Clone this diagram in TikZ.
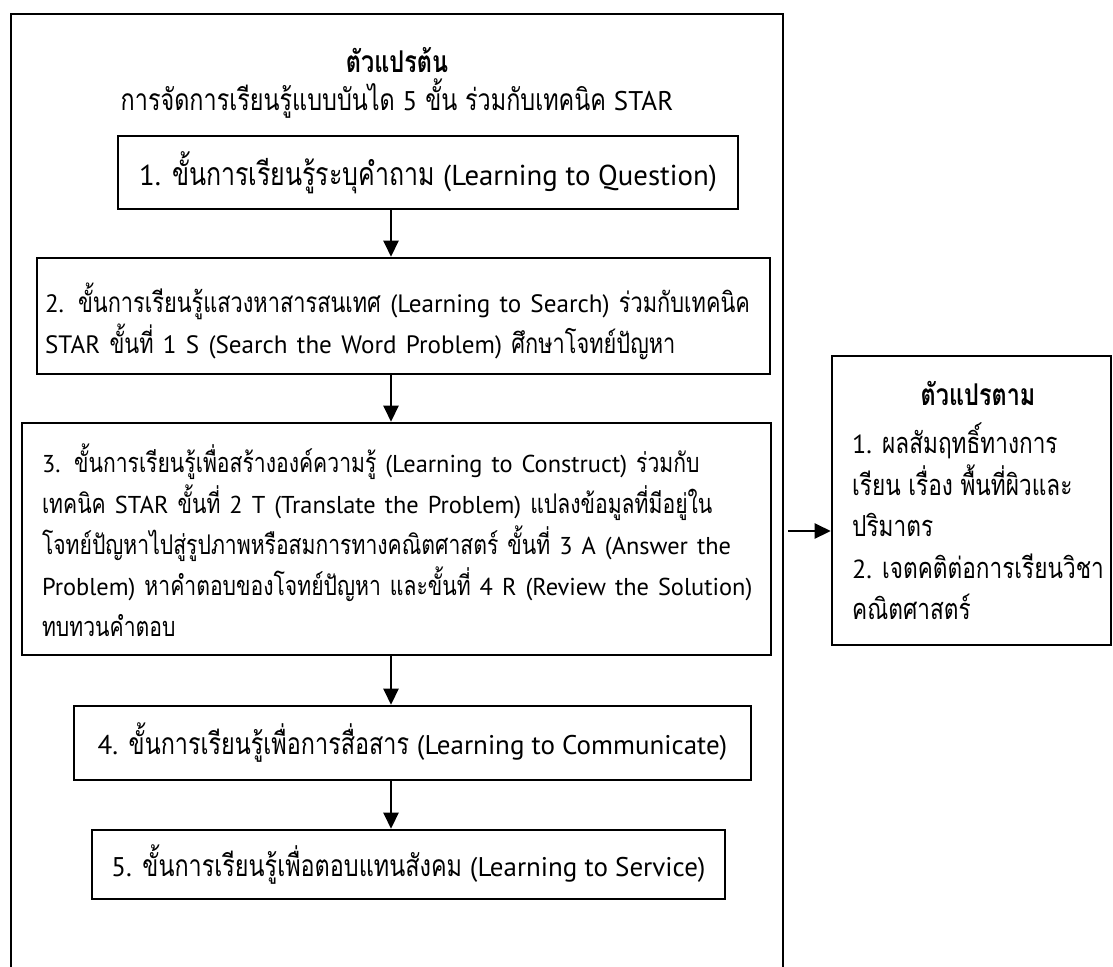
\documentclass[tikz,border=0pt]{standalone}
\usepackage{fontspec}
\setmainfont[Script=Thai,FakeStretch=0.78]{Loma}
\newfontfamily\latf[Scale=0.9]{PT Sans}
\newcommand\lat[1]{{\latf #1}}
\usetikzlibrary{arrows.meta}
\tikzset{
  framebox/.style={draw, line width=2.6pt},
  stepbox/.style={framebox, inner sep=0pt, align=center},
  leftbox/.style={framebox, inner ysep=0pt, align=left},
  arr/.style={line width=2.5pt, -{Triangle[length=16pt,width=15pt]}},
  txt/.style={font=\fontsize{30}{41}\selectfont},
  ttl/.style={font=\fontsize{30}{41}\selectfont\bfseries}
}
\begin{document}
\begin{tikzpicture}[x=1pt,y=-1pt]
\useasboundingbox (0,0) rectangle (1113,966);
% outer frame, open at the bottom
\coordinate (oBL) at (11,985);
\coordinate (oTL) at (11,14);
\coordinate (oTR) at (783,14);
\coordinate (oBR) at (783,985);
\draw[line width=2.6pt] (oBL) -- (oTL) -- (oTR) -- (oBR);
\node[ttl, anchor=base, inner sep=0pt] (t1) at (397,73) {ตัวแปรต้น};
\node[txt, anchor=base, inner sep=0pt] (t2) at (397,110) {การจัดการเรียนรู้แบบบันได \lat{5} ขั้น ร่วมกับเทคนิค \lat{STAR}};
\node[stepbox, font=\fontsize{32}{41}\selectfont, minimum width=620pt, minimum height=73pt] (b1) at (428,172.5) {\lat{1.} ขั้นการเรียนรู้ระบุคำถาม \lat{(Learning to Question)}};
\node[leftbox, font=\fontsize{27.9}{41}\selectfont, inner xsep=8pt, text width=717pt, minimum height=116pt] (b2) at (403.5,316)
  {\mbox{\rule{0pt}{40pt}\lat{2.} ขั้นการเรียนรู้แสวงหาสารสนเทศ \lat{(Learning to Search)} ร่วมกับเทคนิค}\\
   \mbox{\lat{STAR} ขั้นที่ \lat{1 S (Search the Word Problem)} ศึกษาโจทย์ปัญหา}};
\node[leftbox, font=\fontsize{27.1}{41}\selectfont, inner xsep=20pt, text width=709pt, minimum height=232pt] (b3) at (396.5,539)
  {\mbox{\rule{0pt}{32pt}\lat{3.} ขั้นการเรียนรู้เพื่อสร้างองค์ความรู้ \lat{(Learning to Construct)} ร่วมกับ}\\
   \mbox{เทคนิค \lat{STAR} ขั้นที่ \lat{2 T (Translate the Problem)} แปลงข้อมูลที่มีอยู่ใน}\\
   \mbox{โจทย์ปัญหาไปสู่รูปภาพหรือสมการทางคณิตศาสตร์ ขั้นที่ \lat{3 A (Answer the}}\\
   \mbox{\lat{Problem)} หาคำตอบของโจทย์ปัญหา และขั้นที่ \lat{4 R (Review the Solution)}}\\
   \mbox{ทบทวนคำตอบ}};
\node[stepbox, txt, minimum width=677pt, minimum height=74pt] (b4) at (412.5,743) {\lat{4.} ขั้นการเรียนรู้เพื่อการสื่อสาร \lat{(Learning to Communicate)}};
\node[stepbox, txt, minimum width=633pt, minimum height=69pt] (b5) at (408.5,864.5) {\lat{5.} ขั้นการเรียนรู้เพื่อตอบแทนสังคม \lat{(Learning to Service)}};
% right box
\node[framebox, minimum width=279pt, minimum height=289pt] (rb) at (971.5,500.5) {};
\node[ttl, anchor=base, inner sep=0pt] (rt) at (978,405) {ตัวแปรตาม};
\node[anchor=north west, align=left, inner sep=0pt, font=\fontsize{29}{41.5}\selectfont] (rl) at (852,423)
  {\lat{1.} ผลสัมฤทธิ์ทางการ\\เรียน เรื่อง พื้นที่ผิวและ\\ปริมาตร\\\lat{2.} เจตคติต่อการเรียนวิชา\\คณิตศาสตร์};
% arrows
\coordinate (ax) at (391,0);
\draw[arr] (b1.south -| ax) -- (b2.north -| ax);
\draw[arr] (b2.south -| ax) -- (b3.north -| ax);
\draw[arr] (b3.south -| ax) -- (b4.north -| ax);
\draw[arr] (b4.south -| ax) -- (b5.north -| ax);
\coordinate (ro) at (788,531);
\draw[arr] (ro) -- (ro -| rb.west);
\end{tikzpicture}
\end{document}
